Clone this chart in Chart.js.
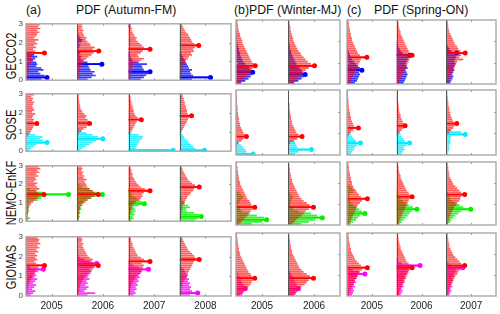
<!DOCTYPE html>
<html>
<head>
<meta charset="utf-8">
<script src="https://cdn.jsdelivr.net/npm/chart.js@4.4.1/dist/chart.umd.min.js"></script>
<style>
body { margin: 0; background: #fff; }
#wrap { position: relative; width: 500px; height: 314px; overflow: hidden; font-family: "Liberation Sans", Arial, sans-serif; }
canvas { position: absolute; }
.title { position: absolute; top: 3px; font-size: 12.3px; color: #111; white-space: nowrap; }
.rowlab { position: absolute; font-size: 14px; color: #111; white-space: nowrap; transform: translate(-50%, -50%) rotate(-90deg) scaleX(0.79); }
</style>
</head>
<body>
<div id="wrap">
  <div class="title" style="left:26px">(a)</div>
  <div class="title" style="left:76px">PDF (Autumn-FM)</div>
  <div class="title" style="left:234px">(b)PDF (Winter-MJ)</div>
  <div class="title" style="left:347px">(c)</div>
  <div class="title" style="left:374px">PDF (Spring-ON)</div>
</div>
<script>
// bins of the vertical axis (0..3), bottom to top
const binCenters = [0.05, 0.15, 0.25, 0.35, 0.45, 0.55, 0.65, 0.75, 0.85, 0.95,
  1.05, 1.15, 1.25, 1.35, 1.45, 1.55, 1.65, 1.75, 1.85, 1.95,
  2.05, 2.15, 2.25, 2.35, 2.45, 2.55, 2.65, 2.75, 2.85, 2.95];
const yTicks = [0, 1, 2, 3];
const yearsAutumn = [2005, 2006, 2007, 2008];
const yearsWinter = [2005, 2006];
const yearsSpring = [2005, 2006, 2007];
const models = ['GECCO2', 'SOSE', 'NEMO-EnKF', 'GIOMAS'];

// PDF bar lengths, in % of one year's width, one array per year
const gecco2RedAutumn = [
  [4,3,5,4,6,5,6,5,8,10, 12,14,10,12,36, 18,14,20,16,22, 18,24,16,20,22, 26,22,28,24,27],
  [3,4,3,5,4,6,5,8,10,12, 14,18,22,28,32, 42,30,34,26,24, 20,16,18,14,12, 10,12,8,10,9],
  [3,4,3,5,6,5,6,8,10,14, 24,30,20,18,24, 28,42,30,26,22, 18,14,16,12,10, 8,6,7,5,4],
  [2,3,3,4,4,5,6,6,8,10, 12,16,18,24,22, 28,26,30,37,28, 24,22,20,18,16, 12,10,8,6,5]];
const gecco2BlueAutumn = [
  [30,41,36,28,24,34,30,20,22,20, 14,18,22,16,4, 2,0,0,0,0, 0,0,0,0,0, 0,0,0,0,0],
  [20,28,36,30,34,26,24,22,48,20, 10,6,8,4,6, 3,2,4,6,3, 8,10,6,4,2, 0,0,0,0,0],
  [24,30,34,38,42,30,28,26,36,20, 8,6,4,3,2, 0,0,0,0,0, 0,0,0,0,0, 0,0,0,3,4],
  [24,60,26,22,20,24,18,16,14,12, 10,8,6,4,3, 0,0,0,0,0, 0,0,0,0,0, 0,0,0,0,3]];
const gecco2RedWinter = [
  [8,12,16,20,24,28,30,32,37,34, 30,28,26,24,22, 20,18,16,14,12, 12,10,8,8,6, 5,4,4,3,3],
  [10,14,18,22,26,30,34,40,51,44, 38,34,30,26,24, 20,18,16,14,12, 10,10,8,7,6, 5,5,4,3,3]];
const gecco2BlueWinter = [
  [10,18,24,28,30,32,28,26,22,18, 14,12,10,8,8, 6,6,4,4,3, 2,2,2,1,1, 0,0,0,0,0],
  [12,20,26,30,33,28,26,22,18,16, 14,12,10,8,6, 6,4,4,3,2, 2,1,1,0,0, 0,0,0,0,0]];
const gecco2RedSpring = [
  [6,8,10,12,14,16,18,20,22,24, 26,28,40,26,22, 20,18,16,14,12, 10,10,8,8,6, 6,5,4,4,3],
  [5,6,8,10,12,14,16,18,20,22, 24,26,28,31,26, 24,22,20,18,16, 14,12,10,8,8, 6,5,4,4,3],
  [4,5,6,8,10,12,14,16,18,20, 22,34,26,30,38, 28,24,22,18,16, 14,12,10,8,6, 5,4,4,3,3]];
const gecco2BlueSpring = [
  [16,20,22,24,26,24,30,26,22,18, 14,10,8,6,4, 3,2,2,1,0, 0,0,0,0,0, 0,0,0,0,0],
  [14,16,18,20,22,20,18,22,20,18, 20,22,24,27,12, 8,6,4,2,1, 0,0,0,0,0, 0,0,0,0,0],
  [8,10,12,14,12,14,16,14,16,18, 16,18,20,19,21, 10,6,4,2,1, 0,0,0,0,0, 0,0,0,0,0]];

const soseRedAutumn = [
  [0,0,0,0,0,0,0,2,4,8, 10,12,14,16,21, 14,16,12,14,18, 12,16,14,12,14, 16,12,14,10,16],
  [0,0,0,0,0,0,0,0,2,3, 8,12,18,20,24, 22,20,16,18,14, 10,8,6,6,5, 4,4,3,3,4],
  [0,0,0,0,0,0,0,0,0,2, 6,8,10,12,14, 16,25,18,14,12, 10,10,8,8,6, 6,5,4,4,3],
  [0,0,0,0,0,0,0,0,0,2, 4,6,8,10,12, 14,16,18,23,16, 14,14,12,12,10, 10,8,8,6,6]];
const soseCyanAutumn = [
  [6,10,16,20,41,34,28,32,18,4, 0,0,0,0,0, 0,0,0,0,0, 0,0,0,0,0, 0,0,0,0,0],
  [6,10,16,24,30,36,50,40,30,18, 8,4,0,0,0, 0,0,0,0,0, 0,0,0,0,0, 0,0,0,0,0],
  [87,14,16,18,20,22,26,28,20,6, 0,0,0,0,0, 0,0,0,0,0, 0,0,0,0,0, 0,0,0,0,0],
  [48,30,26,22,18,14,10,8,6,2, 0,0,0,0,0, 0,0,0,0,0, 0,0,0,0,0, 0,0,0,0,0]];
const soseRedWinter = [
  [0,0,0,0,2,4,10,14,20,16, 14,12,10,8,8, 6,6,5,4,4, 3,3,3,2,2, 2,2,2,1,1],
  [0,0,0,0,2,4,12,18,27,20, 16,14,12,10,8, 8,6,6,5,4, 4,3,3,3,2, 2,2,2,1,1]];
const soseCyanWinter = [
  [33,20,18,14,10,6,0,0,0,0, 0,0,0,0,0, 0,0,0,0,0, 0,0,0,0,0, 0,0,0,0,0],
  [14,20,45,18,16,14,8,0,0,0, 0,0,0,0,0, 0,0,0,0,0, 0,0,0,0,0, 0,0,0,0,0]];
const soseRedSpring = [
  [0,0,0,0,0,0,0,0,2,4, 8,12,23,14,12, 10,8,8,6,6, 5,4,4,3,3, 3,2,2,2,2],
  [0,0,0,0,0,0,0,0,0,2, 6,10,14,17,14, 12,10,8,8,6, 5,5,4,4,3, 3,2,2,2,2],
  [0,0,0,0,0,0,0,0,0,2, 6,10,14,16,21, 14,12,10,8,8, 6,6,5,4,4, 3,3,2,2,2]];
const soseCyanSpring = [
  [8,10,14,16,20,27,18,14,10,8, 6,0,0,0,0, 0,0,0,0,0, 0,0,0,0,0, 0,0,0,0,0],
  [10,12,16,14,20,26,16,14,10,8, 6,4,0,0,0, 0,0,0,0,0, 0,0,0,0,0, 0,0,0,0,0],
  [4,4,6,6,6,8,8,8,10,38, 30,8,0,0,0, 0,0,0,0,0, 0,0,0,0,0, 0,0,0,0,0]];

const nemoRedAutumn = [
  [2,3,3,4,4,5,5,6,8,10, 14,18,22,26,35, 24,20,26,22,18, 22,16,20,18,24, 20,26,22,28,24],
  [2,2,3,3,4,4,5,6,8,12, 16,20,26,32,41, 34,30,24,20,18, 16,14,18,12,14, 10,12,8,10,8],
  [2,2,3,3,4,5,6,6,8,10, 14,20,24,28,26, 30,42,32,24,20, 16,14,12,10,8, 8,6,6,4,4],
  [2,2,2,3,3,4,4,5,6,8, 10,12,14,16,20, 22,26,28,38,30, 24,20,16,14,12, 10,8,6,5,4]];
const nemoGreenAutumn = [
  [4,8,3,2,4,6,3,5,4,6, 5,24,30,38,83, 36,20,8,0,0, 0,0,0,0,0, 0,0,0,0,0],
  [3,4,5,4,6,5,8,6,10,8, 12,20,28,36,49, 40,30,24,10,4, 0,0,0,0,0, 0,0,0,0,0],
  [6,10,8,12,10,14,12,10,20,31, 26,22,16,10,6, 4,3,2,0,0, 0,0,0,0,0, 0,0,0,0,0],
  [30,36,42,38,28,14,12,20,16,10, 8,6,4,2,0, 0,0,0,0,0, 0,0,0,0,0, 0,0,0,0,0]];
const nemoRedWinter = [
  [6,10,14,18,22,26,28,32,36,30, 28,26,22,20,18, 16,14,12,10,8, 8,6,6,5,4, 4,3,3,2,2],
  [8,12,16,20,26,30,34,40,49,42, 36,30,26,22,20, 18,16,14,12,10, 8,8,6,6,5, 4,4,3,3,2]];
const nemoGreenWinter = [
  [30,50,59,54,40,24,12,8,6,4, 6,8,12,14,10, 6,0,0,0,0, 0,0,0,0,0, 0,0,0,0,0],
  [26,40,52,66,56,44,20,10,6,4, 6,6,8,10,6, 4,0,0,0,0, 0,0,0,0,0, 0,0,0,0,0]];
const nemoRedSpring = [
  [4,6,8,10,12,14,16,18,20,22, 26,30,41,28,24, 20,18,14,12,10, 10,8,8,6,6, 5,4,4,3,3],
  [4,5,6,8,10,12,14,16,18,20, 22,24,26,31,26, 24,20,18,16,14, 12,10,8,8,6, 5,4,4,3,3],
  [3,4,5,6,8,10,12,14,16,20, 22,26,28,30,37, 30,26,22,18,14, 12,10,8,6,6, 5,4,4,3,3]];
const nemoGreenSpring = [
  [8,12,18,22,26,36,30,24,18,12, 8,6,4,4,6, 12,14,10,6,0, 0,0,0,0,0, 0,0,0,0,0],
  [6,10,14,18,22,26,30,41,32,24, 18,12,8,6,4, 3,2,0,0,0, 0,0,0,0,0, 0,0,0,0,0],
  [4,8,10,14,18,24,30,49,34,26, 18,12,8,6,4, 3,2,0,0,0, 0,0,0,0,0, 0,0,0,0,0]];

const giomasRedAutumn = [
  [2,3,3,4,4,5,6,8,10,12, 14,16,18,20,24, 36,20,16,22,18, 22,18,24,20,26, 22,28,24,26,22],
  [2,3,4,4,5,6,8,10,12,14, 18,22,26,30,34, 41,32,28,30,24, 20,18,16,14,12, 10,12,8,10,8],
  [2,2,3,4,5,6,8,10,12,14, 18,22,26,24,28, 30,26,42,30,24, 18,16,14,12,10, 8,8,6,5,4],
  [2,2,3,3,4,5,6,8,10,12, 14,16,18,20,22, 24,26,28,38,30, 28,24,20,16,14, 12,10,8,6,5]];
const giomasMagentaAutumn = [
  [10,14,18,12,16,20,14,18,22,16, 20,18,24,34,8, 4,2,0,0,0, 0,0,0,0,0, 0,0,0,0,0],
  [20,35,14,18,22,16,20,18,24,20, 22,26,28,24,30, 32,38,24,14,6, 3,2,1,0,0, 0,0,0,0,0],
  [10,14,12,16,14,18,16,20,18,22, 20,24,26,39,20, 10,4,0,0,0, 0,0,0,0,0, 0,0,0,0,0],
  [20,35,24,20,22,18,20,16,18,14, 16,12,10,8,4, 2,0,0,0,0, 0,0,0,0,0, 0,0,0,0,0]];
const giomasRedWinter = [
  [8,12,16,20,24,28,30,32,36,30, 28,24,22,20,18, 16,14,12,10,8, 8,6,6,5,4, 4,3,3,2,2],
  [10,14,18,22,26,32,36,40,49,42, 36,30,26,22,20, 18,16,14,12,10, 8,8,6,6,5, 4,4,3,3,2]];
const giomasMagentaWinter = [
  [12,14,16,18,16,14,12,10,8,6, 4,2,1,0,0, 0,0,0,0,0, 0,0,0,0,0, 0,0,0,0,0],
  [14,16,18,20,18,16,14,12,10,8, 6,4,2,0,0, 0,0,0,0,0, 0,0,0,0,0, 0,0,0,0,0]];
const giomasRedSpring = [
  [4,5,6,8,10,12,14,16,18,20, 22,26,30,41,28, 24,20,16,14,12, 10,8,8,6,6, 5,4,4,3,3],
  [4,5,6,8,10,12,14,16,18,20, 22,24,26,31,28, 24,20,18,16,14, 12,10,8,8,6, 5,4,4,3,3],
  [3,4,5,6,8,10,12,14,16,18, 22,24,28,30,37, 30,26,22,18,14, 12,10,8,6,6, 5,4,4,3,3]];
const giomasMagentaSpring = [
  [10,12,14,12,16,14,18,16,20,22, 36,24,12,6,2, 0,0,0,0,0, 0,0,0,0,0, 0,0,0,0,0],
  [8,10,12,10,14,12,16,14,18,16, 20,22,24,26,47, 10,4,2,0,0, 0,0,0,0,0, 0,0,0,0,0],
  [6,8,10,8,12,10,12,14,12,16, 14,18,20,33,10, 4,2,0,0,0, 0,0,0,0,0, 0,0,0,0,0]];

// layout
const seasons = [
  { years: yearsAutumn, left: 26, right: 231 },
  { years: yearsWinter, left: 236, right: 340 },
  { years: yearsSpring, left: 347, right: 496 }
];
const rowBoxes = [
  { top: 20, bottom: 84, label: 56 },
  { top: 90, bottom: 155, label: 125 },
  { top: 162, bottom: 225, label: 193 },
  { top: 233, bottom: 296, label: 267 }
];
const rowSeries = [
  { rgb: '0,0,255', red: [gecco2RedAutumn, gecco2RedWinter, gecco2RedSpring], other: [gecco2BlueAutumn, gecco2BlueWinter, gecco2BlueSpring] },
  { rgb: '0,235,255', red: [soseRedAutumn, soseRedWinter, soseRedSpring], other: [soseCyanAutumn, soseCyanWinter, soseCyanSpring] },
  { rgb: '0,240,0', red: [nemoRedAutumn, nemoRedWinter, nemoRedSpring], other: [nemoGreenAutumn, nemoGreenWinter, nemoGreenSpring] },
  { rgb: '255,0,255', red: [giomasRedAutumn, giomasRedWinter, giomasRedSpring], other: [giomasMagentaAutumn, giomasMagentaWinter, giomasMagentaSpring] }
];

const framePlugin = {
  id: 'frame',
  afterDatasetsDraw(chart) {
    const { ctx, chartArea: a, scales } = chart;
    const years = chart.options.plugins.frame.years;
    ctx.save();
    ctx.strokeStyle = '#555';
    ctx.lineWidth = 1;
    years.slice(1).forEach(yr => {
      const x = Math.round(scales.x.getPixelForValue(yr)) + 0.5;
      ctx.beginPath(); ctx.moveTo(x, a.top); ctx.lineTo(x, a.bottom); ctx.stroke();
    });
    ctx.strokeStyle = '#999';
    years.forEach(yr => {
      const x = Math.round(scales.x.getPixelForValue(yr + 0.5)) + 0.5;
      ctx.beginPath(); ctx.moveTo(x, a.top); ctx.lineTo(x, a.top + 2);
      ctx.moveTo(x, a.bottom); ctx.lineTo(x, a.bottom - 2); ctx.stroke();
    });
    [1, 2].forEach(v => {
      const y = Math.round(scales.y.getPixelForValue(v)) + 0.5;
      ctx.beginPath(); ctx.moveTo(a.left, y); ctx.lineTo(a.left + 2, y);
      ctx.moveTo(a.right, y); ctx.lineTo(a.right - 2, y); ctx.stroke();
    });
    ctx.strokeStyle = '#a8a8a8';
    ctx.lineWidth = 1.4;
    ctx.strokeRect(a.left, a.top, a.right - a.left, a.bottom - a.top);
    ctx.restore();
  }
};

function barPoints(years, hist) {
  const pts = [];
  years.forEach((yr, i) => hist[i].forEach((v, b) => {
    if (v > 0) pts.push({ y: binCenters[b], x: [yr, yr + v / 100] });
  }));
  return pts;
}

function peakLines(years, hist, color, order) {
  return years.map((yr, i) => {
    const h = hist[i];
    const m = Math.max(...h);
    const yc = binCenters[h.indexOf(m)];
    return {
      type: 'line', order,
      data: [{ x: yr, y: yc }, { x: yr + m / 100, y: yc }],
      borderColor: color, borderWidth: 1.8,
      pointRadius: [0, 2.5], pointBackgroundColor: color, pointBorderWidth: 0
    };
  });
}

const wrap = document.getElementById('wrap');
const yAxisW = 12, padTop = 4, padRight = 4;

rowBoxes.forEach((row, r) => {
  const ser = rowSeries[r];
  const last = r === rowBoxes.length - 1;
  const xh = last ? 22 : 4;

  const lab = document.createElement('div');
  lab.className = 'rowlab';
  lab.textContent = models[r];
  lab.style.left = '11px';
  lab.style.top = row.label + 'px';
  wrap.appendChild(lab);

  seasons.forEach((s, si) => {
    const cv = document.createElement('canvas');
    const w = s.right - s.left + yAxisW + padRight;
    const h = row.bottom - row.top + padTop + xh;
    cv.width = w; cv.height = h;
    cv.style.left = (s.left - yAxisW) + 'px';
    cv.style.top = (row.top - padTop) + 'px';
    wrap.appendChild(cv);

    const years = s.years;
    const redHist = ser.red[si], otherHist = ser.other[si];
    const solid = 'rgb(' + ser.rgb + ')';

    new Chart(cv, {
      type: 'bar',
      data: {
        datasets: [
          { indexAxis: 'y', grouped: false, order: 4, data: barPoints(years, otherHist),
            backgroundColor: 'rgba(' + ser.rgb + ',0.78)', borderWidth: 0,
            categoryPercentage: 1, barPercentage: 0.9 },
          ...peakLines(years, otherHist, solid, 3),
          { indexAxis: 'y', grouped: false, order: 2, data: barPoints(years, redHist),
            backgroundColor: 'rgba(255,0,0,0.62)', borderWidth: 0,
            categoryPercentage: 1, barPercentage: 0.9 },
          ...peakLines(years, redHist, 'rgb(255,0,0)', 1)
        ]
      },
      options: {
        responsive: false,
        animation: false,
        events: [],
        layout: { padding: { top: padTop, right: padRight, left: 0, bottom: 0 } },
        plugins: { legend: { display: false }, tooltip: { enabled: false }, frame: { years } },
        scales: {
          x: {
            type: 'linear', offset: false, min: years[0], max: years[years.length - 1] + 1,
            grid: { display: false, drawTicks: false, offset: false }, border: { display: false },
            afterBuildTicks: sc => { sc.ticks = years.map(yr => ({ value: yr + 0.5 })); },
            ticks: {
              display: last, autoSkip: false, maxRotation: 0, padding: 4,
              color: '#222', font: { family: 'Liberation Sans', size: 10 },
              callback: v => String(Math.floor(v))
            },
            afterFit: sc => { sc.height = xh; }
          },
          y: {
            type: 'linear', offset: false, min: yTicks[0], max: yTicks[yTicks.length - 1],
            grid: { display: false, drawTicks: false, offset: false }, border: { display: false },
            afterBuildTicks: sc => { sc.ticks = yTicks.map(v => ({ value: v })); },
            ticks: {
              display: si === 0, autoSkip: false, padding: 3, color: '#444',
              font: { family: 'Liberation Sans', size: 8 },
              callback: v => String(v)
            },
            afterFit: sc => { sc.width = yAxisW; }
          }
        }
      },
      plugins: [framePlugin]
    });
  });
});
</script>
</body>
</html>
